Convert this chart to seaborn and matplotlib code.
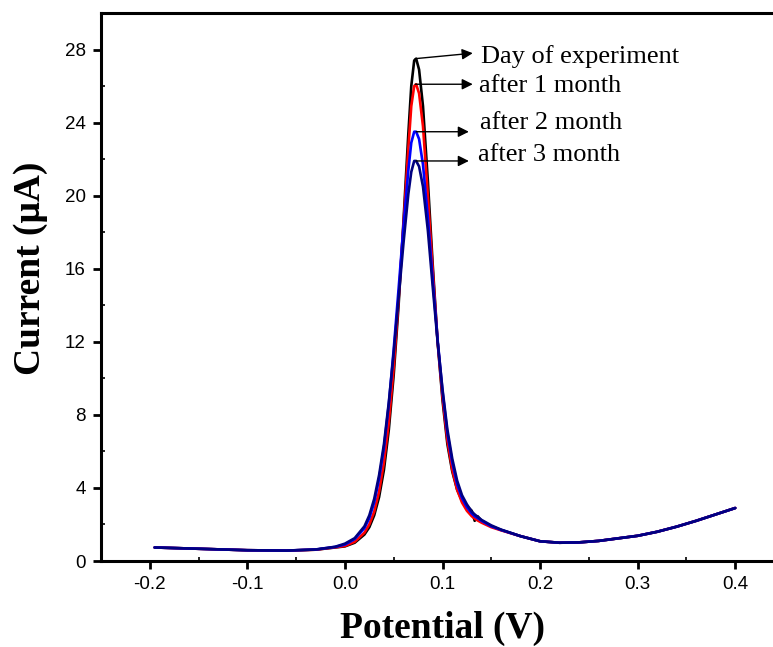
"""
Stability of the DPV peak current over three months.
"""
import numpy as np
import pandas as pd
import seaborn as sns
import matplotlib.pyplot as plt
from matplotlib.ticker import MultipleLocator

# ------------------------------------------------------------------ data ---- #
potential = [-0.195, -0.15, -0.10, -0.06, -0.03, -0.01, 0.000, 0.010, 0.020,
             0.025, 0.030, 0.035, 0.040, 0.045, 0.050, 0.055, 0.060, 0.065,
             0.068, 0.071, 0.073, 0.076, 0.080, 0.085, 0.090, 0.095, 0.100,
             0.105, 0.110, 0.115, 0.120, 0.125, 0.130, 0.133, 0.136, 0.140,
             0.150, 0.160, 0.180, 0.200, 0.220, 0.240, 0.260, 0.280, 0.300,
             0.320, 0.340, 0.360, 0.380, 0.400]

day0 = [0.74, 0.67, 0.59, 0.57, 0.62, 0.74, 0.80, 1.00, 1.45,
        1.85, 2.50, 3.50, 5.00, 7.20, 10.2, 14.0, 18.6, 23.4,
        26.0, 27.4, 27.5, 26.9, 24.9, 20.8, 16.2, 12.0, 8.80,
        6.40, 4.90, 3.90, 3.30, 3.00, 2.75, 2.20, 2.45, 2.20,
        1.90, 1.70, 1.36, 1.08, 1.00, 1.02, 1.10, 1.24, 1.38,
        1.60, 1.88, 2.20, 2.55, 2.90]

month1 = [0.74, 0.67, 0.59, 0.57, 0.62, 0.75, 0.82, 1.05, 1.55,
          2.00, 2.70, 3.80, 5.40, 7.60, 10.6, 14.3, 18.4, 22.6,
          24.9, 26.0, 26.1, 25.6, 23.8, 20.0, 15.9, 12.0, 9.00,
          6.60, 5.00, 3.90, 3.20, 2.75, 2.45, 2.32, 2.22, 2.10,
          1.85, 1.68, 1.36, 1.08, 1.00, 1.02, 1.10, 1.24, 1.38,
          1.60, 1.88, 2.20, 2.55, 2.90]

month2 = [0.74, 0.67, 0.59, 0.57, 0.63, 0.77, 0.90, 1.20, 1.80,
          2.35, 3.20, 4.50, 6.20, 8.60, 11.6, 14.9, 18.3, 21.4,
          22.9, 23.5, 23.5, 23.1, 21.7, 18.8, 15.4, 12.1, 9.30,
          7.00, 5.40, 4.20, 3.45, 2.95, 2.60, 2.45, 2.35, 2.20,
          1.90, 1.70, 1.36, 1.08, 1.00, 1.02, 1.10, 1.24, 1.38,
          1.60, 1.88, 2.20, 2.55, 2.90]

month3 = [0.74, 0.67, 0.59, 0.57, 0.63, 0.78, 0.95, 1.25, 1.90,
          2.50, 3.40, 4.70, 6.40, 8.70, 11.4, 14.4, 17.4, 20.1,
          21.3, 21.9, 21.9, 21.6, 20.5, 18.1, 15.0, 12.0, 9.40,
          7.20, 5.60, 4.40, 3.60, 3.10, 2.70, 2.55, 2.42, 2.25,
          1.95, 1.72, 1.36, 1.08, 1.00, 1.02, 1.10, 1.24, 1.38,
          1.60, 1.88, 2.20, 2.55, 2.90]

series_names = ["Day of experiment", "after 1 month", "after 2 month", "after 3 month"]
series_colors = ["#000000", "#ff0000", "#0000ff", "#000080"]

# arrow tail (peak top), arrow head and label anchor, in data coordinates
arrow_from = [(0.072, 27.5), (0.072, 26.1), (0.073, 23.5), (0.073, 21.9)]
arrow_to = [(0.131, 27.8), (0.131, 26.1), (0.127, 23.5), (0.127, 21.9)]
label_at = [(0.139, 27.6), (0.137, 26.0), (0.138, 24.0), (0.136, 22.2)]

# ---------------------------------------------------------------- figure ---- #
df = pd.concat([
    pd.DataFrame({"Potential": potential, "Current": vals, "series": name})
    for name, vals in zip(series_names, [day0, month1, month2, month3])
])

sns.set_style("ticks")
plt.rcParams["font.family"] = ["Liberation Sans", "DejaVu Sans"]
plt.rcParams.update({"text.color": "black", "axes.labelcolor": "black",
                     "xtick.color": "black", "ytick.color": "black",
                     "axes.edgecolor": "black"})

fig = plt.figure(figsize=(7.73, 6.47), dpi=100)
ax = fig.add_axes([101 / 773, 86 / 647, 683 / 773, 548 / 647])

sns.lineplot(data=df, x="Potential", y="Current", hue="series",
             palette=dict(zip(series_names, series_colors)),
             estimator=None, sort=False, linewidth=1.9, legend=False, ax=ax)

ax.set_xlim(-0.25, 0.45)
ax.set_ylim(0, 30)
ax.xaxis.set_minor_locator(MultipleLocator(0.05))
ax.yaxis.set_minor_locator(MultipleLocator(2))
ax.set_xticks(np.arange(-0.2, 0.41, 0.1))
ax.set_xticklabels(["-0.2", "-0.1", "0.0", "0.1", "0.2", "0.3", "0.4"])
ax.set_yticks(np.arange(0, 29, 4))

ax.tick_params(which="major", direction="out", length=6, width=2,
               labelsize=13.5, pad=5)
ax.tick_params(which="minor", direction="in", length=3, width=1.2)

for side in ["left", "bottom", "top"]:
    ax.spines[side].set_linewidth(2.2)
ax.spines["right"].set_visible(False)

ax.set_xlabel("Potential (V)", family="Liberation Serif", fontweight="bold",
              fontsize=27, labelpad=13)
ax.set_ylabel("Current (\u03bcA)", family="Liberation Serif", fontweight="bold",
              fontsize=27)
ax.yaxis.set_label_coords(-0.077, 0.535)

# arrows pointing from each peak to its label
for name, p0, p1, pt in zip(series_names, arrow_from, arrow_to, label_at):
    ax.annotate("", xy=p1, xytext=p0,
                arrowprops=dict(arrowstyle="-|>", color="black", lw=1,
                                mutation_scale=16, shrinkA=0, shrinkB=0))
    ax.text(pt[0], pt[1], name, family="Liberation Serif", fontsize=19,
            va="center", ha="left")

fig.savefig("out.png", dpi=100, facecolor="white")
